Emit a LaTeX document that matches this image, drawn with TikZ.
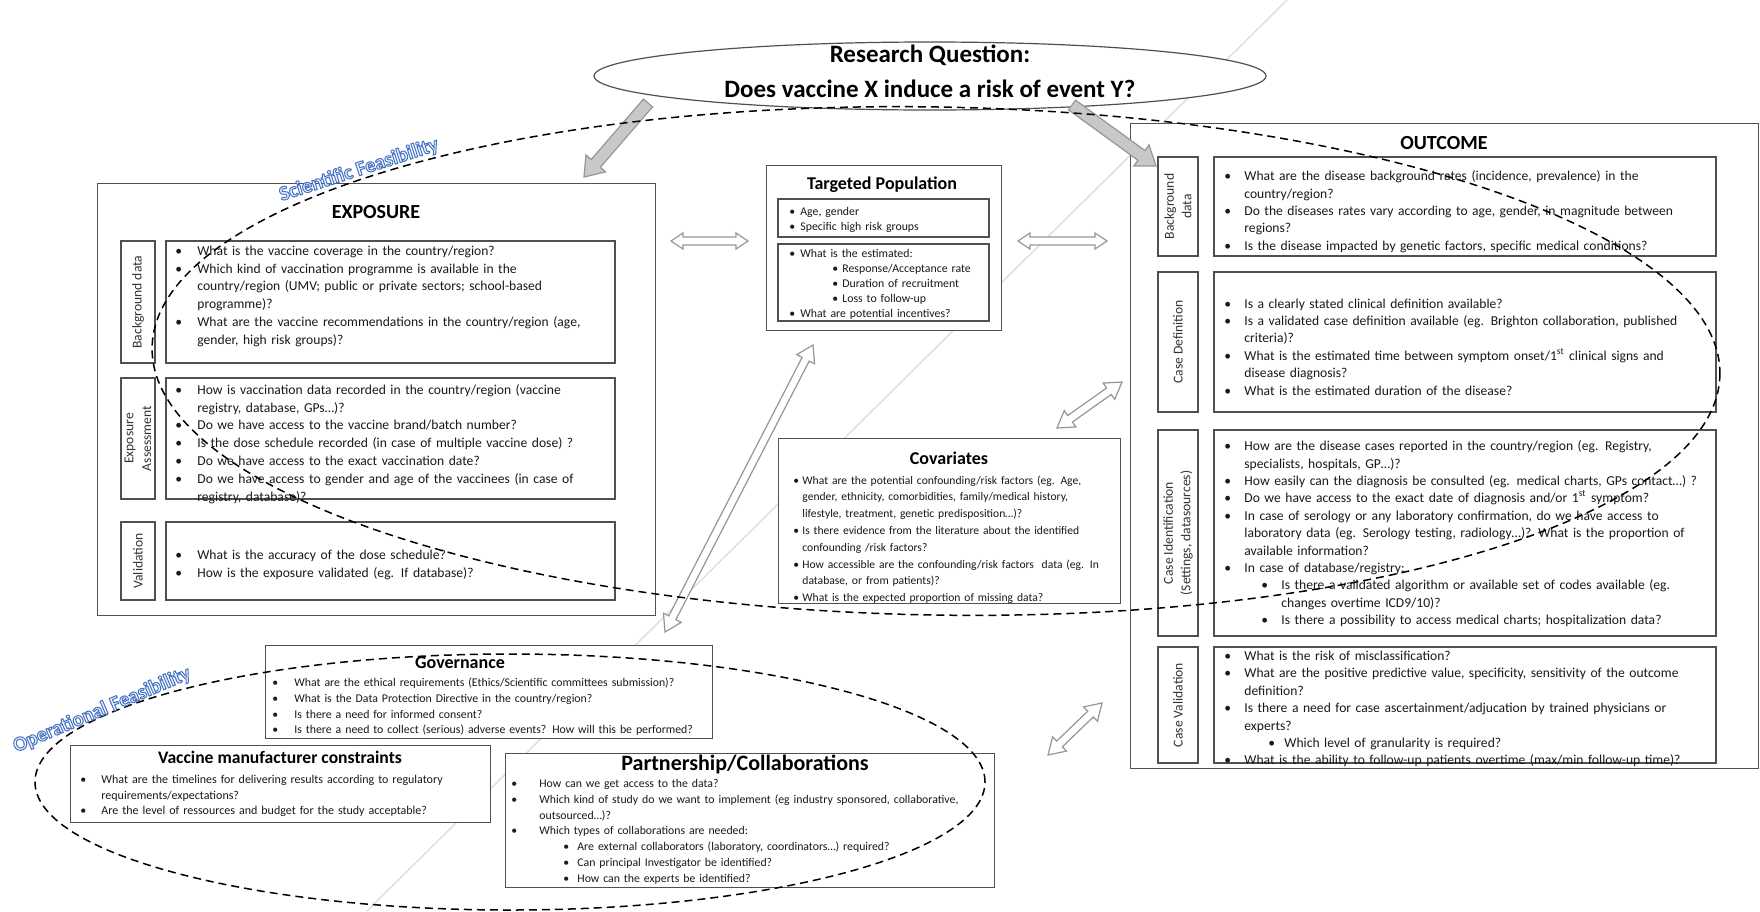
\documentclass[tikz,border=0pt]{standalone}
\usepackage{fontspec}
\setmainfont{Carlito}
\newfontfamily\olfont[FakeBold=5]{Carlito}
\usetikzlibrary{shapes.geometric,calc,positioning}

\definecolor{olFill}{RGB}{246,249,253}

% bullet lists with hanging indent
\newlength\bw
\newlength\sbl
\newlength\sbw
\newcommand{\itm}[1]{\par\hangindent=\bw\hangafter=1\noindent\makebox[\bw][l]{\textbullet}#1}
\newcommand{\sitm}[1]{\par\hangindent=\dimexpr\sbl+\sbw\relax\hangafter=1\noindent\hspace*{\sbl}\makebox[\sbw][l]{\textbullet}#1}

% word-art style outlined text: light fill, blue stroke
\newcommand{\olt}[1]{{\olfont\bfseries\color{olFill}\special{pdf:literal direct 0.267 0.447 0.769 RG}#1}}

% block arrows: #1 prefix, #2 tail, #3 tip
\newcommand{\sglblock}[3]{%
  \coordinate (#1b) at ($(#3)!\arlen!(#2)$);
  \draw[solidarr] ($(#2)!\arshaft!90:(#3)$) -- ($(#1b)!\arshaft!90:(#3)$) -- ($(#1b)!\arhead!90:(#3)$) -- (#3)
    -- ($(#1b)!\arhead!-90:(#3)$) -- ($(#1b)!\arshaft!-90:(#3)$) -- ($(#2)!\arshaft!-90:(#3)$) -- cycle;}
\newcommand{\dblblock}[3]{%
  \coordinate (#1a) at ($(#2)!\arlen!(#3)$);
  \coordinate (#1b) at ($(#3)!\arlen!(#2)$);
  \draw[hollowarr] (#2) -- ($(#1a)!\arhead!90:(#3)$) -- ($(#1a)!\arshaft!90:(#3)$)
    -- ($(#1b)!\arshaft!90:(#3)$) -- ($(#1b)!\arhead!90:(#3)$) -- (#3)
    -- ($(#1b)!\arhead!-90:(#3)$) -- ($(#1b)!\arshaft!-90:(#3)$)
    -- ($(#1a)!\arshaft!-90:(#3)$) -- ($(#1a)!\arhead!-90:(#3)$) -- cycle;}

\newcommand{\expfont}{\fontsize{6.8}{8.9}\selectfont}
\newcommand{\outfont}{\fontsize{6.8}{8.7}\selectfont}
\newcommand{\tpfont}{\fontsize{5.9}{7.4}\selectfont}
\newcommand{\covfont}{\fontsize{5.8}{8.4}\selectfont}
\newcommand{\govfont}{\fontsize{5.9}{7.8}\selectfont}
\newcommand{\vmcfont}{\fontsize{6}{7.8}\selectfont}
\newcommand{\partfont}{\fontsize{5.9}{7.9}\selectfont}

\begin{document}
\begin{tikzpicture}[x=0.5pt, y=-0.5pt,
    box/.style={draw=lineGrey, line width=0.6pt, fill=white, inner sep=0pt},
    sidebox/.style={box, align=center, text=black!80},
    tx/.style={anchor=west, align=left, inner sep=0pt, text width=260pt, text=black!90},
    ttl/.style={inner sep=0pt, font=\bfseries\fontsize{9}{10}\selectfont},
    hollowarr/.style={draw=arrowGrey, fill=white, line width=0.6pt},
    solidarr/.style={draw=arrowGrey, fill=arrowFill, line width=0.6pt},
    feasline/.style={dash pattern=on 4pt off 2.5pt, line width=0.75pt},
    feaslabel/.style={inner sep=0pt, font=\fontsize{10.2}{11}\selectfont}]
    \definecolor{lineGrey}{RGB}{80,80,80}
    \definecolor{arrowGrey}{RGB}{150,150,150}
    \definecolor{arrowFill}{RGB}{200,200,200}

    % Page
    \fill[white] (0,0) rectangle (1760,911);
    \useasboundingbox (0,0) rectangle (1760,911);
    \draw[black!13, line width=0.7pt] (1287,0) -- (367,911);

    % Research question
    \node[draw=lineGrey, line width=0.6pt, fill=white, ellipse, minimum width=336pt, minimum height=34pt, inner sep=0pt] (rq) at (930,76) {};
    \node[align=center, inner sep=0pt, font=\bfseries\fontsize{12.5}{17.5}\selectfont] (rqtext) at (930,71)
        {Research Question:\\Does vaccine X induce a risk of event Y?};

    % EXPOSURE
    \node[box, anchor=north west, minimum width=279pt, minimum height=216pt] (exp) at (97,183) {};
    \node[ttl, font=\bfseries\fontsize{10}{11}\selectfont] (expttl) at (376,212) {EXPOSURE};

    \node[sidebox, rotate=90, minimum width=61pt, minimum height=17pt, font=\expfont] (expbgside) at (138,302) {Background data};
    \node[box, minimum width=224.5pt, minimum height=61pt] (expbg) at (390.5,302) {};
    \node[tx, font=\expfont] (expbgtx) at (175,292) {\setlength\bw{11pt}%
        \itm{What is the vaccine coverage in the country/region?}
        \itm{Which kind of vaccination programme is available in the\newline country/region (UMV; public or private sectors; school-based\newline programme)?}
        \itm{What are the vaccine recommendations in the country/region (age,\newline gender, high risk groups)?}\par};

    \node[sidebox, rotate=90, minimum width=60.5pt, minimum height=17pt, font=\expfont] (expeaside) at (138,438.5) {Exposure\\Assessment};
    \node[box, minimum width=224.5pt, minimum height=60.5pt] (expea) at (390.5,438.5) {};
    \node[tx, font=\expfont] (expeatx) at (175,440) {\setlength\bw{11pt}%
        \itm{How is vaccination data recorded in the country/region (vaccine\newline registry, database, GPs…)?}
        \itm{Do we have access to the vaccine brand/batch number?}
        \itm{Is the dose schedule recorded (in case of multiple vaccine dose) ?}
        \itm{Do we have access to the exact vaccination date?}
        \itm{Do we have access to gender and age of the vaccinees (in case of\newline registry, database)?}\par};

    \node[sidebox, rotate=90, minimum width=39pt, minimum height=17pt, font=\expfont] (expvalside) at (138,561) {Validation};
    \node[box, minimum width=224.5pt, minimum height=39pt] (expval) at (390.5,561) {};
    \node[tx, font=\expfont] (expvaltx) at (175,561) {\setlength\bw{11pt}%
        \itm{What is the accuracy of the dose schedule?}
        \itm{How is the exposure validated (eg. If database)?}\par};

    % Targeted population
    \node[box, anchor=north west, minimum width=117.5pt, minimum height=82.5pt] (tp) at (766,165) {};
    \node[ttl] (tpttl) at (882,185) {Targeted Population};
    \node[box, minimum width=105.5pt, minimum height=19pt] (tpa) at (883.5,218) {};
    \node[tx, font=\tpfont] (tpatx) at (789,217) {\setlength\bw{5.5pt}%
        \itm{Age, gender}
        \itm{Specific high risk groups}\par};
    \node[box, minimum width=105.5pt, minimum height=38.5pt] (tpb) at (883.5,282.5) {};
    \node[tx, font=\tpfont] (tpbtx) at (789,281) {\setlength\bw{5.5pt}\setlength\sbl{21.5pt}\setlength\sbw{5pt}%
        \itm{What is the estimated:}
        \sitm{Response/Acceptance rate}
        \sitm{Duration of recruitment}
        \sitm{Loss to follow-up}
        \itm{What are potential incentives?}\par};

    % Covariates
    \node[box, anchor=north west, minimum width=171pt, minimum height=82.5pt] (cov) at (778,438) {};
    \node[ttl] (covttl) at (949,458) {Covariates};
    \node[tx, font=\covfont] (covtx) at (793,535.5) {\setlength\bw{4.5pt}%
        \itm{What are the potential confounding/risk factors (eg. Age,\newline gender, ethnicity, comorbidities, family/medical history,\newline lifestyle, treatment, genetic predisposition…)?}
        \itm{Is there evidence from the literature about the identified\newline confounding /risk factors?}
        \itm{How accessible are the confounding/risk factors\ \ data (eg. In\newline database, or from patients)?}
        \itm{What is the expected proportion of missing data?}\par};

    % OUTCOME
    \node[box, anchor=north west, minimum width=314pt, minimum height=322.5pt] (out) at (1130,123) {};
    \node[ttl, font=\bfseries\fontsize{10}{11}\selectfont] (outttl) at (1444,143) {OUTCOME};

    \node[sidebox, rotate=90, minimum width=49.5pt, minimum height=20pt, font=\outfont] (outbgside) at (1178,206.5) {Background\\data};
    \node[box, minimum width=251pt, minimum height=49.5pt] (outbg) at (1465,206.5) {};
    \node[tx, font=\outfont] (outbgtx) at (1224,208) {\setlength\bw{10pt}%
        \itm{What are the disease background rates (incidence, prevalence) in the\newline country/region?}
        \itm{Do the diseases rates vary according to age, gender, in magnitude between\newline regions?}
        \itm{Is the disease impacted by genetic factors, specific medical conditions?}\par};

    \node[sidebox, rotate=90, minimum width=70pt, minimum height=20pt, font=\outfont] (outcdside) at (1178,342) {Case Definition};
    \node[box, minimum width=251pt, minimum height=70pt] (outcd) at (1465,342) {};
    \node[tx, font=\outfont] (outcdtx) at (1224,343) {\setlength\bw{10pt}%
        \itm{Is a clearly stated clinical definition available?}
        \itm{Is a validated case definition available (eg. Brighton collaboration, published\newline criteria)?}
        \itm{What is the estimated time between symptom onset/1\textsuperscript{st} clinical signs and\newline disease diagnosis?}
        \itm{What is the estimated duration of the disease?}\par};

    \node[sidebox, rotate=90, minimum width=103pt, minimum height=20pt, font=\outfont] (outciside) at (1178,533) {Case Identification\\(Settings, datasources)};
    \node[box, minimum width=251pt, minimum height=103pt] (outci) at (1465,533) {};
    \node[tx, font=\outfont] (outcitx) at (1224,530) {\setlength\bw{10pt}\setlength\sbl{18.5pt}\setlength\sbw{10pt}%
        \itm{How are the disease cases reported in the country/region (eg. Registry,\newline specialists, hospitals, GP…)?}
        \itm{How easily can the diagnosis be consulted (eg. medical charts, GPs contact…) ?}
        \itm{Do we have access to the exact date of diagnosis and/or 1\textsuperscript{st} symptom?}
        \itm{In case of serology or any laboratory confirmation, do we have access to\newline laboratory data (eg. Serology testing, radiology…)? What is the proportion of\newline available information?}
        \itm{In case of database/registry:}
        \sitm{Is there a validated algorithm or available set of codes available (eg.\newline changes overtime ICD9/10)?}
        \sitm{Is there a possibility to access medical charts; hospitalization data?}\par};

    \node[sidebox, rotate=90, minimum width=58pt, minimum height=20pt, font=\outfont] (outcvside) at (1178,705) {Case Validation};
    \node[box, minimum width=251pt, minimum height=58pt] (outcv) at (1465,705) {};
    \node[tx, font=\outfont] (outcvtx) at (1224,705) {\setlength\bw{10pt}\setlength\sbl{22pt}\setlength\sbw{8pt}%
        \itm{What is the risk of misclassification?}
        \itm{What are the positive predictive value, specificity, sensitivity of the outcome\newline definition?}
        \itm{Is there a need for case ascertainment/adjucation by trained physicians or\newline experts?}
        \sitm{Which level of granularity is required?}
        \itm{What is the ability to follow-up patients overtime (max/min follow-up time)?}\par};

    % Operational boxes
    \node[box, anchor=north west, minimum width=223.5pt, minimum height=46.5pt] (gov) at (265,645) {};
    \node[ttl] (govttl) at (460,663) {Governance};
    \node[tx, font=\govfont] (govtx) at (272,703.5) {\setlength\bw{11pt}%
        \itm{What are the ethical requirements (Ethics/Scientific committees submission)?}
        \itm{What is the Data Protection Directive in the country/region?}
        \itm{Is there a need for informed consent?}
        \itm{Is there a need to collect (serious) adverse events? How will this be performed?}\par};

    \node[box, anchor=north west, minimum width=210pt, minimum height=38.5pt] (vmc) at (70,745) {};
    \node[ttl, font=\bfseries\fontsize{8.8}{10}\selectfont] (vmcttl) at (280,757) {Vaccine manufacturer constraints};
    \node[tx, font=\vmcfont] (vmctx) at (80,792.5) {\setlength\bw{10.5pt}%
        \itm{What are the timelines for delivering results according to regulatory\newline requirements/expectations?}
        \itm{Are the level of ressources and budget for the study acceptable?}\par};

    \node[box, anchor=north west, minimum width=244.5pt, minimum height=67pt] (part) at (505,753) {};
    \node[ttl, font=\bfseries\fontsize{11}{12}\selectfont] (partttl) at (745,764) {Partnership/Collaborations};
    \node[tx, font=\partfont] (parttx) at (511,828) {\setlength\bw{14pt}\setlength\sbl{26pt}\setlength\sbw{7pt}%
        \itm{How can we get access to the data?}
        \itm{Which kind of study do we want to implement (eg industry sponsored, collaborative,\newline outsourced…)?}
        \itm{Which types of collaborations are needed:}
        \sitm{Are external collaborators (laboratory, coordinators…) required?}
        \sitm{Can principal Investigator be identified?}
        \sitm{How can the experts be identified?}\par};

    % Grey arrows from the research question
    \coordinate (rqexps) at (648,103);
    \coordinate (rqexpe) at (584,177);
    \coordinate (rqouts) at (1072,105);
    \coordinate (rqoute) at (1156,166);
    \def\arshaft{3pt}\def\arhead{6.5pt}\def\arlen{9pt}
    \sglblock{ga}{rqexps}{rqexpe}
    \sglblock{gb}{rqouts}{rqoute}

    % Hollow double arrows
    \coordinate (exptpa) at (671,241);
    \coordinate (exptpb) at (748,241);
    \coordinate (tpouta) at (1018,241);
    \coordinate (tpoutb) at (1107,241);
    \def\arshaft{2pt}\def\arhead{4pt}\def\arlen{6pt}
    \dblblock{ha}{exptpa}{exptpb}
    \dblblock{hb}{tpouta}{tpoutb}

    \coordinate (tpgova) at (665,632);
    \coordinate (tpgovb) at (813,345);
    \coordinate (covouta) at (1057,428);
    \coordinate (covoutb) at (1122,382);
    \coordinate (partouta) at (1048,755);
    \coordinate (partoutb) at (1102,703);
    \def\arshaft{2pt}\def\arhead{5pt}\def\arlen{8pt}
    \dblblock{hc}{tpgova}{tpgovb}
    \dblblock{hd}{covouta}{covoutb}
    \dblblock{he}{partouta}{partoutb}

    % Feasibility areas
    \coordinate (sfc) at (936,361);
    \coordinate (ofc) at (510,782);
    \draw[feasline, rotate around={-1:(sfc)}] (sfc) ellipse [x radius=392pt, y radius=127pt];
    \draw[feasline] (ofc) ellipse [x radius=237.5pt, y radius=64pt];

    \node[feaslabel, rotate=18] (sflabel) at (359,170) {\olt{Scientific Feasibility}};
    \node[feaslabel, rotate=23] (oflabel) at (102,710) {\olt{Operational Feasibility}};

\end{tikzpicture}
\end{document}
